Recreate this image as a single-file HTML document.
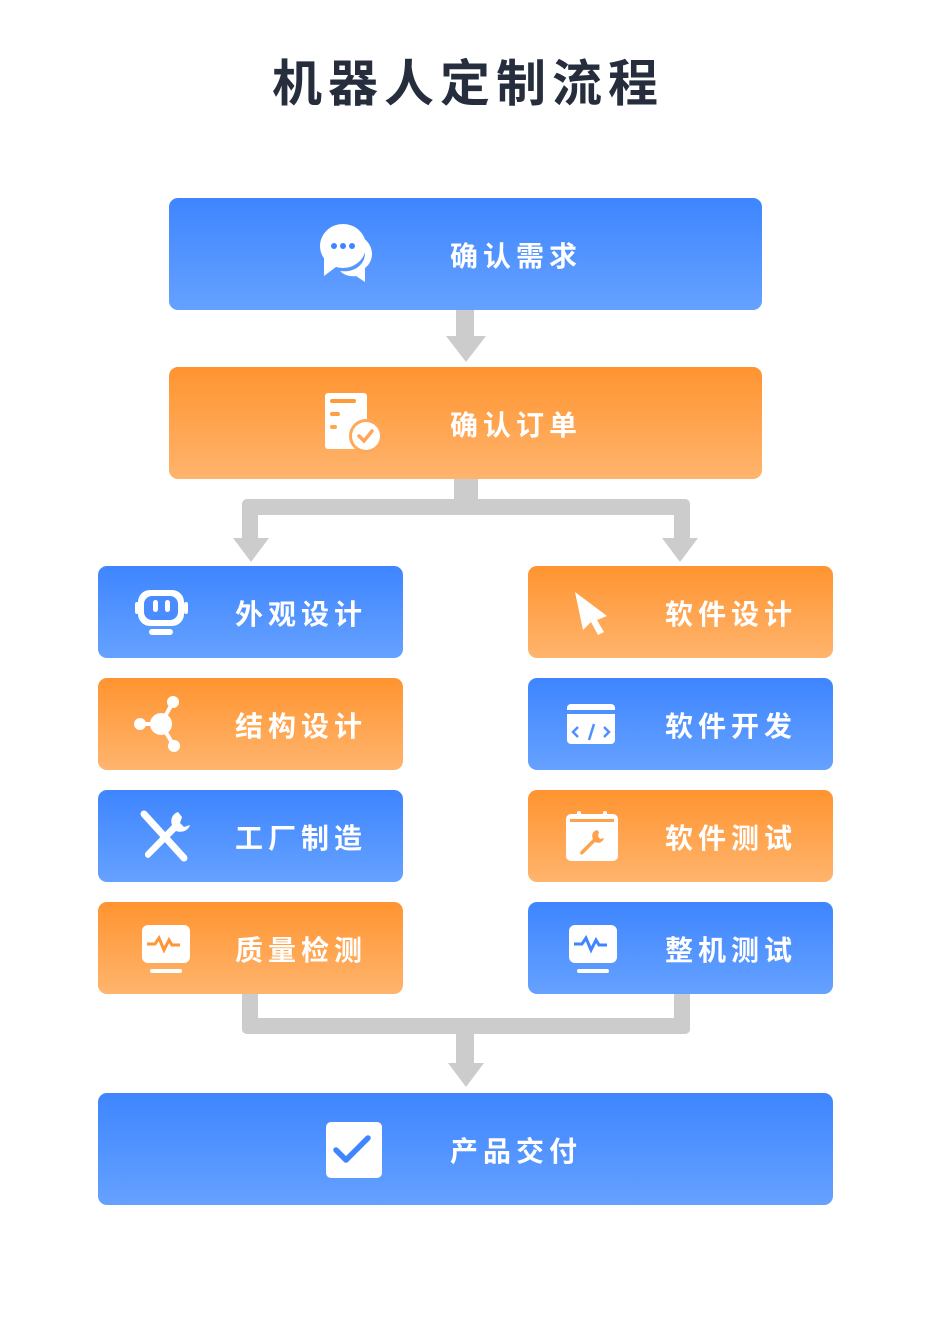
<!DOCTYPE html>
<html><head><meta charset="utf-8"><style>
body{margin:0;width:930px;height:1342px;background:#fff;position:relative;font-family:"Liberation Sans","Noto Sans CJK SC",sans-serif;overflow:hidden}
.t{position:absolute;top:44px;left:0;width:930px;text-align:center;font-size:50px;font-weight:bold;color:#262d3d;letter-spacing:6px;text-indent:6px}
.b{position:absolute;border-radius:9px;color:#fff;font-weight:bold;font-size:28px;letter-spacing:5px}
.bl{background:linear-gradient(#3e85ff,#65a1ff)}
.or{background:linear-gradient(#ff9430,#ffb46d)}
.b span{position:absolute;top:50%;transform:translateY(-48%);white-space:nowrap}
.b svg{position:absolute}
.g{position:absolute;background:#cccccc}
</style></head><body>
<div class="t">机器人定制流程</div>

<div class="b bl" style="left:169px;top:198px;width:593px;height:112px">
<svg style="left:150px;top:24px" width="66" height="66" viewBox="0 0 66 66"><path d="M40 14c8 3 13 10 13 18 0 6-3 11-7 14v14l-9-6c-6 1-12-1-16-5 14 2 25-6 25-18 0-6-3-12-6-17z" fill="#fff"/><ellipse cx="24" cy="24" rx="23" ry="22" fill="#fff"/><path d="M5 36v18l12-9z" fill="#fff"/><circle cx="15" cy="24" r="3" fill="#3e85ff"/><circle cx="24" cy="24" r="3" fill="#3e85ff"/><circle cx="33" cy="24" r="3" fill="#3e85ff"/></svg>
<span style="left:281px">确认需求</span></div>

<div class="g" style="left:456px;top:310px;width:18px;height:27px"></div>
<svg style="position:absolute;left:446px;top:336px" width="40" height="26"><path d="M0 0h40L20 26z" fill="#ccc"/></svg>

<div class="b or" style="left:169px;top:367px;width:593px;height:112px">
<svg style="left:155px;top:25px" width="62" height="62" viewBox="0 0 62 62"><rect x="1" y="1" width="42" height="56" rx="3" fill="#fff"/><rect x="6" y="7" width="26" height="4" rx="2" fill="#ff9a3b"/><rect x="6" y="20" width="10" height="4" rx="2" fill="#ff9f43"/><rect x="6" y="33" width="7" height="4" rx="2" fill="#ffa64f"/><circle cx="42" cy="44" r="17" fill="#ffa85a"/><circle cx="42" cy="44" r="14" fill="#fff"/><path d="M35 44l5 5 8-10" stroke="#ffa55a" stroke-width="3.5" fill="none" stroke-linecap="round"/></svg>
<span style="left:281px">确认订单</span></div>

<div class="g" style="left:454px;top:479px;width:24px;height:26px"></div>
<div class="g" style="left:242px;top:499px;width:448px;height:16px;border-radius:5px"></div>
<div class="g" style="left:242px;top:499px;width:16px;height:40px;border-radius:5px 0 0 0"></div>
<div class="g" style="left:674px;top:499px;width:16px;height:40px;border-radius:0 5px 0 0"></div>
<svg style="position:absolute;left:233px;top:538px" width="36" height="24"><path d="M0 0h36L18 24z" fill="#ccc"/></svg>
<svg style="position:absolute;left:662px;top:538px" width="36" height="24"><path d="M0 0h36L18 24z" fill="#ccc"/></svg>

<div class="b bl" style="left:98px;top:566px;width:305px;height:92px">
<svg style="left:36px;top:22px" width="56" height="50" viewBox="0 0 56 50"><rect x="4" y="2" width="46" height="36" rx="12" fill="#fff"/><rect x="10" y="8" width="34" height="24" rx="8" fill="#4a8cff"/><rect x="19" y="12" width="5" height="12" rx="2.5" fill="#fff"/><rect x="31" y="12" width="5" height="12" rx="2.5" fill="#fff"/><rect x="1" y="14" width="4" height="12" rx="2" fill="#fff"/><rect x="50" y="14" width="4" height="12" rx="2" fill="#fff"/><rect x="15" y="41" width="24" height="6" rx="3" fill="#fff"/></svg>
<span style="left:137px">外观设计</span></div>

<div class="b or" style="left:98px;top:678px;width:305px;height:92px">
<svg style="left:34px;top:16px" width="52" height="60" viewBox="0 0 52 60"><circle cx="29" cy="30" r="11" fill="#fff"/><circle cx="8" cy="30" r="6" fill="#fff"/><circle cx="41" cy="8" r="6" fill="#fff"/><circle cx="42" cy="52" r="6" fill="#fff"/><path d="M8 30h20M29 30L41 8M29 30l13 22" stroke="#fff" stroke-width="4"/></svg>
<span style="left:137px">结构设计</span></div>

<div class="b bl" style="left:98px;top:790px;width:305px;height:92px">
<svg style="left:42px;top:20px" width="50" height="52" viewBox="0 0 50 52"><path d="M4 4l40 44" stroke="#fff" stroke-width="7" stroke-linecap="round"/><path d="M38 2c-6 2-8 8-6 13L6 42c-3 3 1 8 4 5l26-26c6 2 12 0 14-6l-6 2-4-4 2-6z" fill="#fff"/></svg>
<span style="left:137px">工厂制造</span></div>

<div class="b or" style="left:98px;top:902px;width:305px;height:92px">
<svg style="left:43px;top:22px" width="50" height="50" viewBox="0 0 50 50"><rect x="1" y="1" width="48" height="38" rx="6" fill="#fff"/><path d="M6 20h8l4-6 5 12 5-10 3 5h8" stroke="#ff9535" stroke-width="3" fill="none"/><rect x="9" y="45" width="32" height="4" rx="2" fill="#fff"/></svg>
<span style="left:137px">质量检测</span></div>

<div class="b or" style="left:528px;top:566px;width:305px;height:92px">
<svg style="left:45px;top:24px" width="40" height="46" viewBox="0 0 40 46"><path d="M2 2l32 24-10 4 7 12-6 3-7-13-8 8z" fill="#fff"/></svg>
<span style="left:137px">软件设计</span></div>

<div class="b bl" style="left:528px;top:678px;width:305px;height:92px">
<svg style="left:38px;top:25px" width="52" height="42" viewBox="0 0 52 42"><rect x="1" y="1" width="48" height="40" rx="4" fill="#fff"/><rect x="1" y="7" width="48" height="4" fill="#4f90ff"/><path d="M12 24l-5 5 5 5M38 24l5 5-5 5M28 21l-5 16" stroke="#4f90ff" stroke-width="2.5" fill="none"/></svg>
<span style="left:137px">软件开发</span></div>

<div class="b or" style="left:528px;top:790px;width:305px;height:92px">
<svg style="left:37px;top:20px" width="54" height="52" viewBox="0 0 54 52"><rect x="1" y="4" width="52" height="47" rx="5" fill="#fff"/><rect x="5" y="9" width="44" height="3" fill="#ffa14a"/><rect x="12" y="1" width="4" height="8" rx="2" fill="#fff"/><rect x="38" y="1" width="4" height="8" rx="2" fill="#fff"/><path d="M32 20c-4 1-6 5-4 9l-12 12c-2 2 0 5 2 3l12-12c4 2 8 0 9-4l-4 1-2-3 1-4z" fill="#ffa14a"/></svg>
<span style="left:137px">软件测试</span></div>

<div class="b bl" style="left:528px;top:902px;width:305px;height:92px">
<svg style="left:40px;top:22px" width="50" height="50" viewBox="0 0 50 50"><rect x="1" y="1" width="48" height="38" rx="6" fill="#fff"/><path d="M6 20h8l4-6 5 12 5-10 3 5h8" stroke="#3e85ff" stroke-width="3" fill="none"/><rect x="9" y="45" width="32" height="4" rx="2" fill="#fff"/></svg>
<span style="left:137px">整机测试</span></div>

<div class="g" style="left:242px;top:994px;width:16px;height:40px;border-radius:0 0 0 5px"></div>
<div class="g" style="left:674px;top:994px;width:16px;height:40px;border-radius:0 0 5px 0"></div>
<div class="g" style="left:242px;top:1018px;width:448px;height:16px;border-radius:0 0 5px 5px"></div>
<div class="g" style="left:456px;top:1033px;width:18px;height:31px"></div>
<svg style="position:absolute;left:448px;top:1063px" width="36" height="24"><path d="M0 0h36L18 24z" fill="#ccc"/></svg>

<div class="b bl" style="left:98px;top:1093px;width:735px;height:112px">
<svg style="left:228px;top:29px" width="56" height="56" viewBox="0 0 56 56"><rect x="0" y="0" width="56" height="56" rx="5" fill="#fff"/><path d="M10 28l10 10 22-22" stroke="#3e85ff" stroke-width="5.5" fill="none" stroke-linecap="round" stroke-linejoin="round"/></svg>
<span style="left:352px">产品交付</span></div>
</body></html>
